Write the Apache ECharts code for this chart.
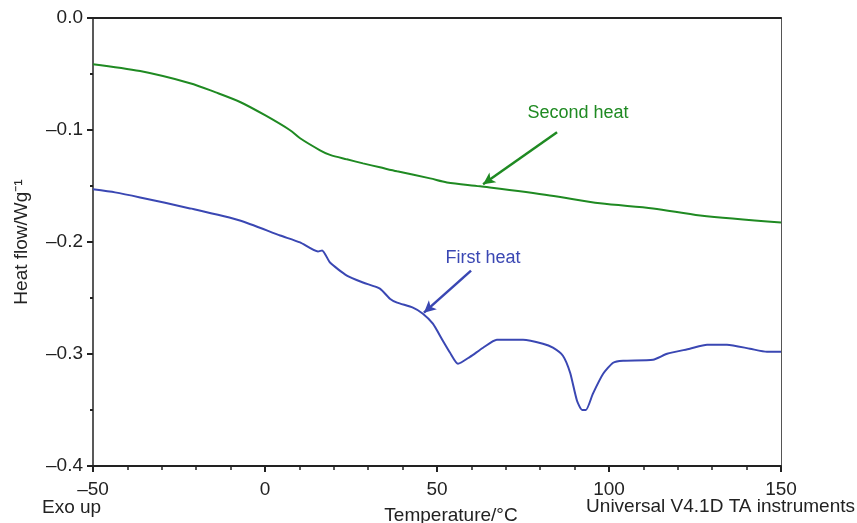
<!DOCTYPE html>
<html>
<head>
<meta charset="utf-8">
<script src="https://cdn.jsdelivr.net/npm/echarts@6/dist/echarts.min.js"></script>
<style>
html,body{margin:0;padding:0;background:#fff;}
#c{width:857px;height:523px;}
</style>
</head>
<body>
<div id="c"></div>
<script>
// Second heat (green)
const secondTemp = [-50, -36.3, -21.8, -14.5, -7.1, 0.0, 7.3, 10.2, 16.0, 18.9, 23.8, 28.5, 33.4, 38.4, 48.0, 52.9, 62.5, 82.8, 97.4, 112.8, 126.5, 150];
const secondHeat = [-0.0412, -0.0474, -0.0582, -0.0662, -0.0752, -0.0868, -0.1002, -0.1074, -0.1181, -0.1222, -0.1262, -0.1298, -0.1333, -0.1369, -0.1432, -0.1468, -0.1503, -0.1584, -0.1655, -0.1700, -0.1763, -0.1826];

// First heat (blue)
const firstTemp = [-50, -43.6, -36.3, -21.8, -7.3, 4.4, 10.2, 15.4, 16.6, 18.9, 23.8, 28.5, 33.4, 36.3, 38.4, 43.0, 45.9, 48.8, 51.7, 53.8, 56.1, 59.6, 63.4, 67.4, 75.0, 80.8, 83.7, 86.6, 88.7, 90.7, 92.2, 93.3, 95.3, 98.3, 101.2, 104.1, 112.8, 116.9, 123.5, 128.5, 134.3, 141.0, 145.9, 150];
const firstHeat = [-0.1530, -0.1557, -0.1602, -0.1700, -0.1808, -0.1942, -0.2004, -0.2085, -0.2075, -0.2183, -0.2300, -0.2362, -0.2416, -0.2506, -0.2541, -0.2586, -0.2640, -0.2729, -0.2881, -0.2989, -0.3087, -0.3025, -0.2944, -0.2873, -0.2873, -0.2908, -0.2944, -0.3016, -0.3168, -0.3418, -0.3499, -0.3499, -0.3356, -0.3177, -0.3078, -0.3060, -0.3051, -0.2998, -0.2953, -0.2917, -0.2917, -0.2953, -0.2980, -0.2980];

// Annotations (data coordinates)
const secondLabel = {text: 'Second heat', at: [91.0, -0.085], from: [84.9, -0.102], to: [63.4, -0.1485]};
const firstLabel = {text: 'First heat', at: [63.4, -0.2139], from: [59.9, -0.2255], to: [46.2, -0.2631]};

const GREEN = '#1f8a22';
const BLUE = '#3a47b3';
const FONT = 'Liberation Sans, Arial, sans-serif';
const FS = 19;

const zip = (a, b) => a.map((v, i) => [v, b[i]]);

const chart = echarts.init(document.getElementById('c'), null, {renderer: 'canvas'});

function fmtY(v) {
  const s = Math.abs(v).toFixed(1);
  return v < -1e-9 ? '\u2013' + s : s;
}
function fmtX(v) {
  return v < 0 ? '\u2013' + Math.abs(v) : String(v);
}

function arrowLine(lbl, color) {
  return {
    silent: true,
    symbol: ['none', 'arrow'],
    symbolSize: [9, 12],
    label: {show: false},
    lineStyle: {color: color, width: 2.5, type: 'solid'},
    data: [[{coord: lbl.from}, {coord: lbl.to}]]
  };
}

chart.setOption({
  animation: false,
  backgroundColor: '#fff',
  textStyle: {fontFamily: FONT},
  grid: {left: 93, right: 76, top: 18, bottom: 57, containLabel: false, outerBoundsMode: 'none'},
  xAxis: [{
    type: 'value', min: -50, max: 150, interval: 50,
    name: 'Temperature/\u00b0C', nameLocation: 'middle', nameGap: 40,
    nameTextStyle: {fontSize: FS, color: '#222', fontFamily: FONT, padding: [0, 0, 0, 28]},
    axisLine: {show: true, onZero: false, lineStyle: {color: '#222', width: 2}},
    axisTick: {show: true, length: 6, lineStyle: {color: '#222', width: 2}},
    minorTick: {show: true, splitNumber: 5, length: 4, lineStyle: {color: '#222', width: 1.5}},
    axisLabel: {fontSize: FS, color: '#222', margin: 14, formatter: fmtX, fontFamily: FONT},
    splitLine: {show: false}
  }, {
    type: 'value', min: -50, max: 150, position: 'top',
    axisLine: {show: true, onZero: false, lineStyle: {color: '#222', width: 2}},
    axisTick: {show: false}, axisLabel: {show: false}, splitLine: {show: false}
  }],
  yAxis: [{
    type: 'value', min: -0.4, max: 0, interval: 0.1,
    name: 'Heat flow/Wg\u207b\u00b9', nameLocation: 'middle', nameGap: 62, nameRotate: 90,
    nameTextStyle: {fontSize: FS, color: '#222', fontFamily: FONT},
    axisLine: {show: true, onZero: false, lineStyle: {color: '#222', width: 1.5}},
    axisTick: {show: true, length: 6, lineStyle: {color: '#222', width: 2}},
    minorTick: {show: true, splitNumber: 2, length: 3, lineStyle: {color: '#222', width: 2}},
    axisLabel: {fontSize: FS, color: '#222', margin: 10, formatter: fmtY, fontFamily: FONT},
    splitLine: {show: false}
  }, {
    type: 'value', min: -0.4, max: 0, position: 'right',
    axisLine: {show: true, onZero: false, lineStyle: {color: '#555', width: 1}},
    axisTick: {show: false}, axisLabel: {show: false}, splitLine: {show: false}
  }],
  series: [{
    name: 'Second heat', type: 'line', data: zip(secondTemp, secondHeat),
    showSymbol: false, smooth: 0.3,
    lineStyle: {color: GREEN, width: 2},
    markLine: arrowLine(secondLabel, GREEN)
  }, {
    name: 'First heat', type: 'line', data: zip(firstTemp, firstHeat),
    showSymbol: false, smooth: 0.2,
    lineStyle: {color: BLUE, width: 2},
    markLine: arrowLine(firstLabel, BLUE)
  }]
});

function place() {
  const p2 = chart.convertToPixel({gridIndex: 0}, secondLabel.at);
  const p1 = chart.convertToPixel({gridIndex: 0}, firstLabel.at);
  chart.setOption({
    graphic: [
      {type: 'text', x: p2[0], y: p2[1], style: {text: secondLabel.text, fill: GREEN, font: '18px ' + FONT, align: 'center', verticalAlign: 'middle'}},
      {type: 'text', x: p1[0], y: p1[1], style: {text: firstLabel.text, fill: BLUE, font: '18px ' + FONT, align: 'center', verticalAlign: 'middle'}},
      {type: 'text', left: 42, top: 498, style: {text: 'Exo up', fill: '#222', font: FS + 'px ' + FONT}},
      {type: 'text', right: 2, top: 497, style: {text: 'Universal V4.1D TA instruments', fill: '#222', font: FS + 'px ' + FONT}}
    ]
  });
}
place();
</script>
</body>
</html>
